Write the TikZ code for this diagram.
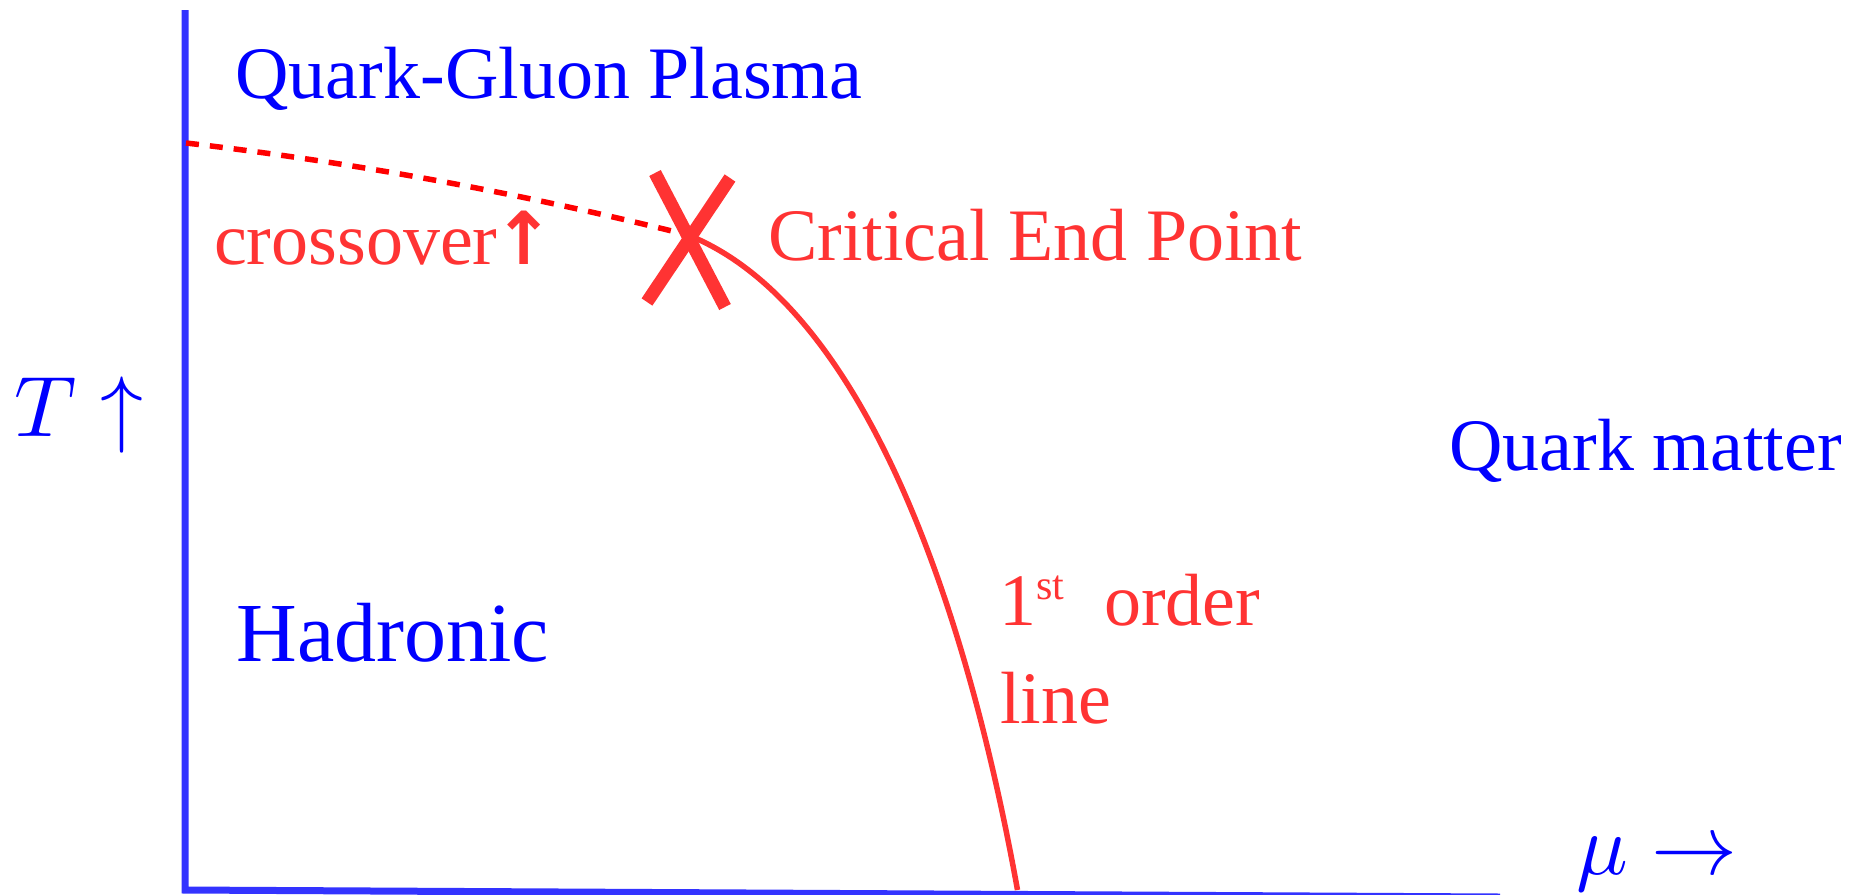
\documentclass[tikz,border=0pt]{standalone}
\usepackage{fontspec}
\setmainfont{Liberation Serif}
\newfontfamily\arrowfont{DejaVu Sans}
\definecolor{axisblue}{RGB}{51,51,255}
\definecolor{txtblue}{RGB}{0,0,255}
\definecolor{lred}{RGB}{255,51,51}
\definecolor{dred}{RGB}{255,0,0}
\begin{document}
\begin{tikzpicture}[x=1pt,y=-1pt,
  lbl/.style={anchor=base west,inner sep=0pt,outer sep=0pt},
  bluetxt/.style={lbl,text=txtblue,font=\fontsize{74}{89}\selectfont},
  redtxt/.style={lbl,text=lred,font=\fontsize{74}{89}\selectfont},
  mathtxt/.style={lbl,text=txtblue,font=\fontsize{10}{12}\selectfont,scale=8.6},
  axisline/.style={draw=axisblue,line width=7pt},
  crossline/.style={draw=dred,line width=5.5pt,dash pattern=on 13pt off 11pt},
  orderline/.style={draw=lred,line width=5.5pt},
  cepmark/.style={draw=lred,line width=13pt,line cap=butt}]
\useasboundingbox (0,0) rectangle (1862,894);
\clip (0,0) rectangle (1862,894);
% axes
\coordinate (ytop) at (185,10);
\coordinate (orig) at (185,890);
\coordinate (xend) at (1500,897);
\draw[axisline] (ytop) -- (orig) -- (xend);
% critical end point
\coordinate (cep) at (688,235);
\coordinate (cstart) at (186,143);
\coordinate (fend) at (1017.5,890);
\draw[crossline] (cstart) .. controls (352.7,162.3) and (520,193) .. (cep);
\draw[orderline] (cep) .. controls (858,303) and (963,588) .. (fend);
\coordinate (xa1) at (655,173);
\coordinate (xa2) at (725,307);
\coordinate (xb1) at (730,178);
\coordinate (xb2) at (647,302);
\draw[cepmark] (xa1) -- (xa2);
\draw[cepmark] (xb1) -- (xb2);
% labels
\node[bluetxt] (qgp) at (235.5,98) {Quark-Gluon Plasma};
\node[bluetxt,font=\fontsize{84}{100}\selectfont] (had) at (236.5,661) {Hadronic};
\node[bluetxt] (qm) at (1449.5,470) {Quark matter};
\node[redtxt] (cepl) at (768,260) {Critical End Point};
\node[redtxt] (cross) at (214,264) {crossover\hspace{-4pt}{\arrowfont\bfseries\fontsize{73}{73}\selectfont ↑}};
\node[redtxt] (first) at (999,625) {1\raisebox{26pt}{\fontsize{42}{42}\selectfont st}\hspace{40pt}order};
\node[redtxt] (line) at (1000,723) {line};
\node[mathtxt] (T) at (14,436) {$T\uparrow$};
\node[mathtxt] (mu) at (1576,874) {$\mu\rightarrow$};
\end{tikzpicture}
\end{document}
